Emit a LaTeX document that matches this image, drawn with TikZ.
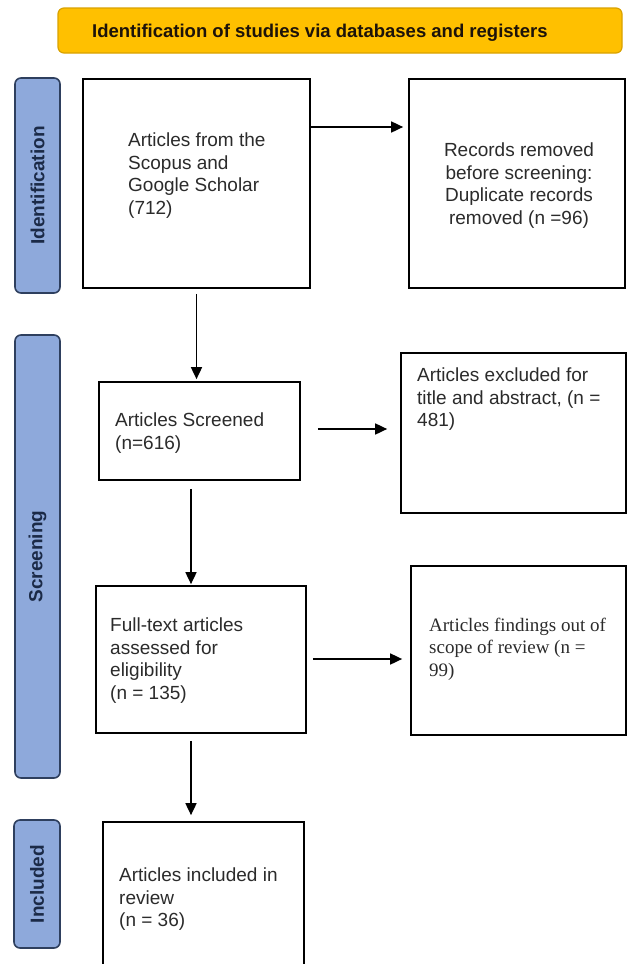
\documentclass[tikz,border=0pt]{standalone}
\usepackage{fontspec}
\setmainfont{Liberation Sans}
\newfontfamily\serifbody{Liberation Serif}
\usetikzlibrary{arrows.meta}
\definecolor{bannerfill}{HTML}{FFC000}
\definecolor{bannerdraw}{HTML}{D9A200}
\definecolor{labfill}{HTML}{8EA9DB}
\definecolor{labdraw}{HTML}{2E3F5E}
\definecolor{labtext}{HTML}{1B2A47}
\definecolor{bodytext}{HTML}{2B2B2B}
\begin{document}
\begin{tikzpicture}[x=1pt,y=-1pt,
  boxnode/.style={draw=black, line width=1.7pt, fill=white, inner sep=0pt},
  bodytxt/.style={inner sep=0pt, align=left, text=bodytext, font=\fontsize{19}{22.5}\selectfont},
  labnode/.style={draw=labdraw, fill=labfill, rounded corners=6pt, line width=1.6pt, inner sep=0pt, rotate=90, text=labtext, font=\bfseries\fontsize{19}{22}\selectfont},
  bannernode/.style={draw=bannerdraw, fill=bannerfill, rounded corners=6pt, line width=1.2pt, inner sep=0pt},
  arr/.style={-{Triangle[length=12pt,width=11pt]}, line width=1.7pt, black}]
\clip (0,0) rectangle (628,964);
\fill[white] (0,0) rectangle (628,964);
% banner
\node[bannernode, minimum width=564pt, minimum height=45pt] (ban) at (340,30.5) {};
\node[anchor=base west, inner sep=0pt, text=black!85!brown, font=\bfseries\fontsize{18.5}{22}\selectfont] (bantxt) at (92,37.5) {Identification of studies via databases and registers};
% phase labels
\node[labnode, minimum width=215pt, minimum height=45pt] (lab1) at (37.5,185.5) {Identification};
\node[labnode, minimum width=443pt, minimum height=45pt] (lab2) at (37.5,556.5) {Screening};
\node[labnode, minimum width=128pt, minimum height=46pt] (lab3) at (37,884) {Included};
% boxes
\node[boxnode, minimum width=227pt, minimum height=209pt] (box1) at (196.5,183.5) {};
\node[boxnode, minimum width=216pt, minimum height=209pt] (box2) at (517,183.5) {};
\node[boxnode, minimum width=201pt, minimum height=98pt] (scr) at (199.5,431) {};
\node[boxnode, minimum width=225pt, minimum height=160pt] (excl) at (513.5,433) {};
\node[boxnode, minimum width=210pt, minimum height=147pt] (full) at (201,659.5) {};
\node[boxnode, minimum width=215pt, minimum height=169pt] (find) at (518.5,650.5) {};
\node[boxnode, minimum width=201pt, minimum height=160pt] (incl) at (203.5,902) {};
% texts (anchor base = baseline of the last line)
\node[bodytxt, anchor=base west] (t1) at (128,214) {Articles from the\\Scopus and\\Google Scholar\\(712)};
\node[bodytxt, align=center, anchor=base] (t2) at (519,224) {Records removed\\before screening:\\Duplicate records\\removed (n =96)};
\node[bodytxt, anchor=base west] (t3) at (115,449) {Articles Screened\\(n=616)};
\node[bodytxt, anchor=base west] (t4) at (417,426.5) {Articles excluded for\\title and abstract, (n =\\481)};
\node[bodytxt, anchor=base west] (t5) at (110,699) {Full-text articles\\assessed for\\eligibility\\(n = 135)};
\node[bodytxt, anchor=base west, font=\serifbody\fontsize{19}{22.5}\selectfont] (t6) at (429,676) {Articles findings out of\\scope of review (n =\\99)};
\node[bodytxt, anchor=base west] (t7) at (119,926.5) {Articles included in\\review\\(n = 36)};
% connectors
\draw[arr, shorten >=5pt] ([yshift=56.5pt]box1.east) -- ([yshift=56.5pt]box1.east -| box2.west);
\draw[arr, shorten <=5pt, shorten >=2pt] (box1.south) -- (box1.south |- scr.north);
\draw[arr, shorten <=17pt, shorten >=13pt] ([yshift=2pt]scr.east) -- ([yshift=2pt]scr.east -| excl.west);
\draw[arr, shorten <=8pt, shorten >=1pt] ([xshift=-8.5pt]scr.south) -- ([xshift=-8.5pt]scr.south |- full.north);
\draw[arr, shorten <=6pt, shorten >=8pt] ([yshift=0.5pt]full.east) -- ([yshift=0.5pt]full.east -| find.west);
\draw[arr, shorten <=7pt, shorten >=6pt] ([xshift=-10pt]full.south) -- ([xshift=-10pt]full.south |- incl.north);
\end{tikzpicture}
\end{document}
